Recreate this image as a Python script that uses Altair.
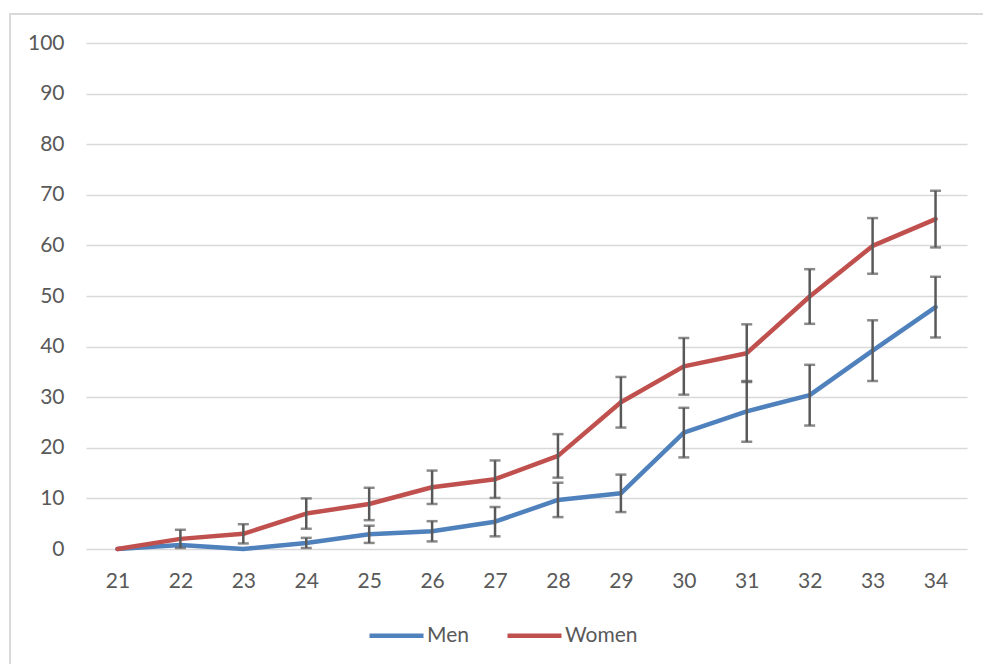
import altair as alt
import pandas as pd

# Age in years and share (%) for each group, with the +/- error for every point
ages = [21, 22, 23, 24, 25, 26, 27, 28, 29, 30, 31, 32, 33, 34]
men = [0, 0.8, 0, 1.2, 2.9, 3.5, 5.4, 9.7, 11.0, 23.0, 27.2, 30.4, 39.2, 47.8]
men_err = [0, 0, 0, 1.0, 1.7, 2.0, 2.9, 3.4, 3.7, 4.9, 6.0, 6.0, 6.0, 6.0]
women = [0, 2.0, 3.0, 7.0, 8.9, 12.2, 13.8, 18.4, 29.0, 36.1, 38.7, 49.9, 59.9, 65.2]
women_err = [0, 1.8, 1.9, 3.0, 3.2, 3.3, 3.7, 4.3, 5.0, 5.6, 5.7, 5.4, 5.5, 5.6]

groups = ["Men", "Women"]
colors = ["#4F81BD", "#C0504D"]

rows = []
for g, vals, errs in [("Men", men, men_err), ("Women", women, women_err)]:
    for a, v, e in zip(ages, vals, errs):
        rows.append({"age": a, "group": g, "value": v, "lo": v - e, "hi": v + e, "err": e})
df = pd.DataFrame(rows)

FONT = "Lato"
FONT_SIZE = 21
TEXT = "#595959"
ERR = "#595959"

x = alt.X("age:Q", scale=alt.Scale(domain=[20.5, 34.5], nice=False, zero=False),
          axis=alt.Axis(values=ages, grid=False, domain=False, ticks=False,
                        labelPadding=21, title=None, format="d"))
y_axis = alt.Axis(values=list(range(0, 101, 10)), grid=True, gridColor="#D9D9D9",
                  gridWidth=1.5, domain=False, ticks=False, labelPadding=22, title=None)
y = alt.Y("value:Q", scale=alt.Scale(domain=[0, 100], nice=False), axis=y_axis)

base = alt.Chart(df)

lines = base.mark_line(strokeWidth=4.5, strokeJoin="round", strokeCap="round").encode(
    x=x,
    y=y,
    color=alt.Color("group:N", scale=alt.Scale(domain=groups, range=colors),
                    legend=alt.Legend(title=None, orient="none", direction="horizontal",
                                      legendX=281, legendY=563, symbolType="stroke",
                                      symbolSize=2916, symbolStrokeWidth=4.5,
                                      labelFont=FONT, labelFontSize=FONT_SIZE, labelColor=TEXT,
                                      labelOffset=1, columnPadding=29)),
)

bars = base.transform_filter("datum.err > 0")
err_rules = bars.mark_rule(color=ERR, strokeWidth=2.5).encode(
    x="age:Q", y="lo:Q", y2="hi:Q")
cap_lo = bars.mark_tick(color=ERR, size=11, thickness=2.5, orient="horizontal").encode(
    x="age:Q", y="lo:Q")
cap_hi = bars.mark_tick(color=ERR, size=11, thickness=2.5, orient="horizontal").encode(
    x="age:Q", y="hi:Q")

# light frame along the top and left edges of the chart area
frame_left = alt.Chart(pd.DataFrame({"k": [0]})).mark_rule(color="#D9D9D9", strokeWidth=2).encode(
    x=alt.value(-76), y=alt.value(-29), y2=alt.value(700))
frame_top = alt.Chart(pd.DataFrame({"k": [0]})).mark_rule(color="#D9D9D9", strokeWidth=2).encode(
    x=alt.value(-77), x2=alt.value(1000), y=alt.value(-29))

chart = alt.layer(frame_left, frame_top, lines, err_rules, cap_lo, cap_hi).properties(
    width=881, height=506,
    autosize=alt.AutoSizeParams(type="none"),
    padding={"left": 86, "top": 43, "right": 16, "bottom": 115},
    background="white",
).configure_view(stroke=None).configure_axis(
    labelFont=FONT, labelFontSize=FONT_SIZE, labelColor=TEXT
)

chart.save("out.html", embed_options={"renderer": "svg", "actions": False})
